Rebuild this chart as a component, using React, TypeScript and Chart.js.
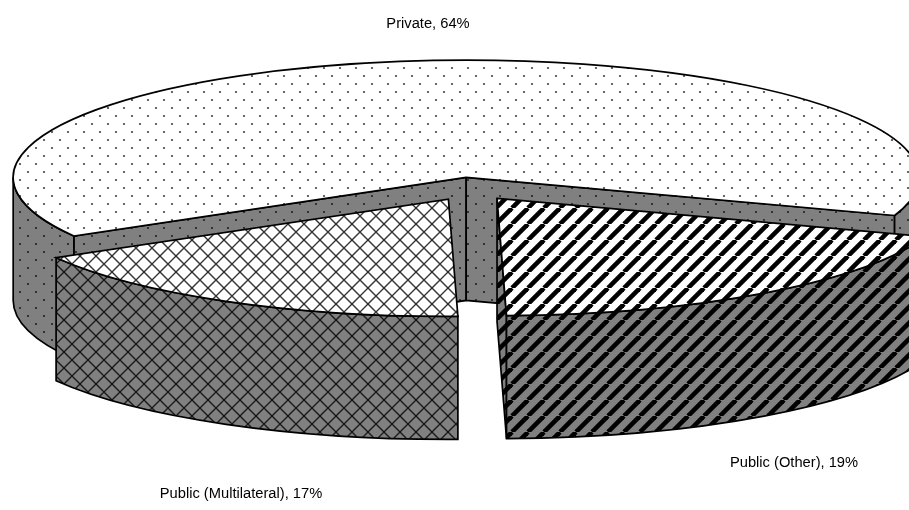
import React, { useEffect, useRef } from "react";
import { Chart, PieController, registerables } from "chart.js";

// Slice data, in drawing order around the pie
const sliceLabels = ["Private", "Public (Other)", "Public (Multilateral)"];
const sliceValues = [63.6, 19.4, 17.0];
const slicePercentText = ["64%", "19%", "17%"];
const slicePatterns = ["dots", "stripes", "cross"];

const TILT = 0.2588; // vertical squash of the pie's disc
const DEPTH = 123; // height of the extruded side walls, px
const EXPLODE = 45; // radial displacement of every slice, px
const RADIUS = 453;
const TOP_FILL = "#ffffff";
const WALL_FILL = "#808080";

function makeTile(kind: string, bg: string | null): HTMLCanvasElement {
  const c = document.createElement("canvas");
  c.width = 16;
  c.height = 16;
  const g = c.getContext("2d")!;
  if (kind === "dots") {
    g.fillStyle = "rgba(0,0,0,0.75)";
    for (const [x, y] of [[4, 4], [12, 12]]) {
      g.beginPath();
      g.arc(x, y, 1.1, 0, Math.PI * 2);
      g.fill();
    }
  } else if (kind === "cross") {
    g.strokeStyle = "rgba(0,0,0,0.8)";
    g.lineWidth = 1.4;
    for (let o = -16; o <= 32; o += 16) {
      g.beginPath();
      g.moveTo(o, 0);
      g.lineTo(o + 16, 16);
      g.moveTo(o + 16, 0);
      g.lineTo(o, 16);
      g.stroke();
    }
  } else {
    g.strokeStyle = "#000";
    g.lineWidth = 4.6;
    for (let o = -16; o <= 32; o += 16) {
      g.beginPath();
      g.moveTo(o + 16, 0);
      g.lineTo(o, 16);
      g.stroke();
    }
  }
  return c;
}

class Pie3DController extends PieController {
  static id = "pie3d";

  draw() {
    const ctx: CanvasRenderingContext2D = (this as any).chart.ctx;
    const arcs: any[] = (this as any)._cachedMeta.data;
    const order = [0, 2, 1];
    const TWO_PI = Math.PI * 2;

    for (const i of order) {
      const arc = arcs[i];
      const a = arc.startAngle;
      const b = arc.endAngle;
      const mid = (a + b) / 2;
      const rx = arc.outerRadius;
      const ry = rx * TILT;
      const cx = arc.x + Math.cos(mid) * EXPLODE;
      const cy = arc.y + Math.sin(mid) * EXPLODE * TILT;
      const pattern = ctx.createPattern(makeTile(slicePatterns[i], null), "repeat")!;

      const paint = (bg: string) => {
        ctx.fillStyle = bg;
        ctx.fill();
        ctx.fillStyle = pattern;
        ctx.fill();
        ctx.strokeStyle = "#000";
        ctx.lineWidth = 1.7;
        ctx.lineJoin = "miter";
        ctx.stroke();
      };
      const cutWall = (t: number) => {
        const px = cx + Math.cos(t) * rx;
        const py = cy + Math.sin(t) * ry;
        ctx.beginPath();
        ctx.moveTo(cx, cy);
        ctx.lineTo(px, py);
        ctx.lineTo(px, py + DEPTH);
        ctx.lineTo(cx, cy + DEPTH);
        ctx.closePath();
        paint(WALL_FILL);
      };

      // Cut faces turned towards the viewer
      if (Math.cos(a) < 0) cutWall(a);
      if (Math.cos(b) > 0) cutWall(b);

      // Outer rim, only where it faces front
      for (let k = 0; k < 3; k++) {
        const s = Math.max(a, k * TWO_PI);
        const e = Math.min(b, k * TWO_PI + Math.PI);
        if (e <= s) continue;
        ctx.beginPath();
        ctx.ellipse(cx, cy, rx, ry, 0, s, e);
        ctx.ellipse(cx, cy + DEPTH, rx, ry, 0, e, s, true);
        ctx.closePath();
        paint(WALL_FILL);
      }

      // Top face
      ctx.beginPath();
      ctx.moveTo(cx, cy);
      ctx.ellipse(cx, cy, rx, ry, 0, a, b);
      ctx.closePath();
      paint(TOP_FILL);
    }
  }
}

const textPlugin = {
  id: "sliceText",
  afterDraw(chart: any) {
    const ctx: CanvasRenderingContext2D = chart.ctx;
    const spots = [
      [428, 24],
      [794, 463],
      [241, 494],
    ];
    ctx.save();
    ctx.font = '14.7px "Liberation Sans", Arial, sans-serif';
    ctx.fillStyle = "#000";
    ctx.textAlign = "center";
    ctx.textBaseline = "middle";
    chart.data.labels.forEach((label: string, i: number) => {
      ctx.fillText(`${label}, ${slicePercentText[i]}`, spots[i][0], spots[i][1]);
    });
    ctx.restore();
  },
};

Chart.register(...registerables, Pie3DController);

export default function App() {
  const ref = useRef<HTMLCanvasElement>(null);
  useEffect(() => {
    const chart = new Chart(ref.current!, {
      type: "pie3d" as any,
      data: {
        labels: sliceLabels,
        datasets: [{ data: sliceValues, clip: false } as any],
      },
      options: {
        responsive: false,
        animation: false,
        rotation: 240,
        radius: RADIUS,
        layout: { padding: { left: 32, right: 0, top: 0, bottom: 132 } },
        plugins: { legend: { display: false }, tooltip: { enabled: false } },
      } as any,
      plugins: [textPlugin],
    });
    return () => chart.destroy();
  }, []);
  return (
    <div style={{ position: "fixed", left: 0, top: 0, width: 909, height: 510, background: "#fff" }}>
      <canvas ref={ref} width={909} height={510} style={{ display: "block" }} />
    </div>
  );
}
